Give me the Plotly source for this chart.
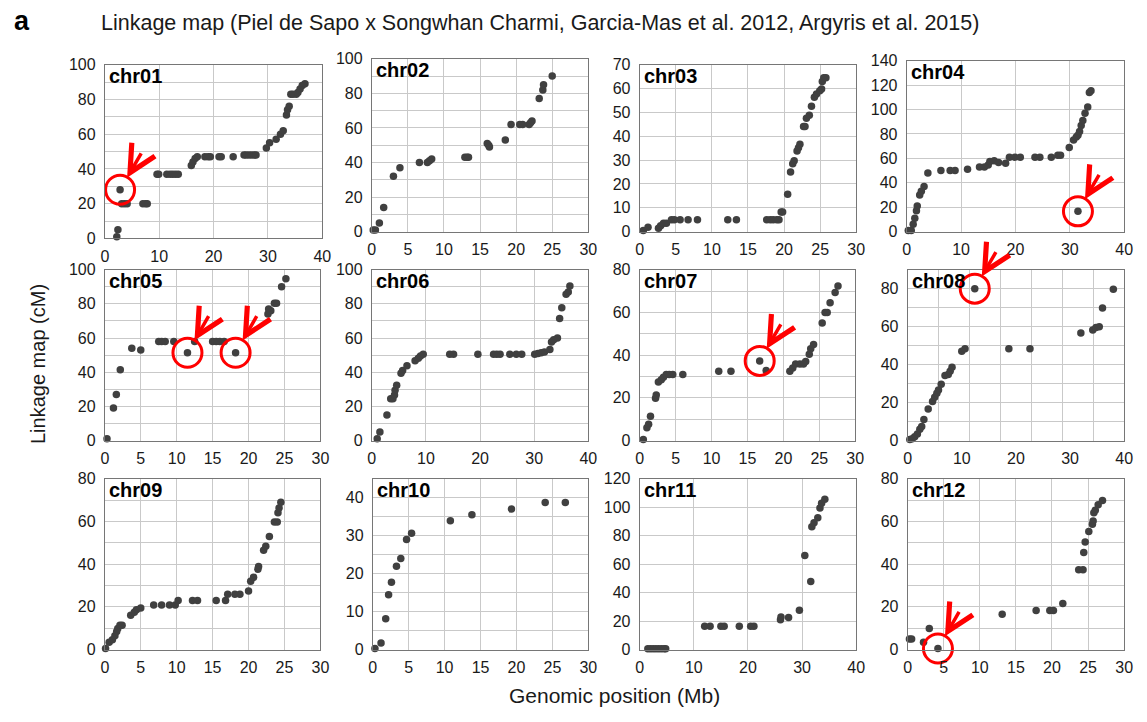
import plotly.graph_objects as go

W, H = 1147, 722

# ---------------- data (Mb, cM) ----------------
chr01_x = [2.2, 2.4, 2.8, 3.1, 3.6, 4.1, 7.0, 7.5, 7.8, 9.6, 9.9, 11.4, 12.0, 12.5, 13.0, 13.5, 15.9, 16.2, 16.6, 17.0,
           18.4, 19.0, 19.4, 21.0, 21.4, 23.6, 25.6, 26.0, 26.5, 27.0, 27.5, 27.8, 29.7, 30.3, 31.5, 32.3, 32.8, 33.4,
           33.6, 33.9, 34.2, 34.6, 35.2, 35.5, 35.9, 36.3, 36.8]
chr01_y = [1, 5, 28, 20, 20, 20, 20, 20, 20, 37, 37, 37, 37, 37, 37, 37, 42, 44, 46, 47,
           47, 47, 47, 47, 47, 47, 48, 48, 48, 48, 48, 48, 52, 55, 57, 60, 62, 71,
           74, 76, 83, 83, 83, 84, 86, 88, 89]

chr02_x = [0.2, 0.5, 1.05, 1.65, 3.0, 3.9, 6.6, 7.7, 8.0, 8.3, 12.9, 13.2, 13.4, 16.0, 16.2, 16.3, 18.5, 19.3, 20.5,
           20.9, 21.8, 22.0, 22.2, 23.2, 23.7, 23.8, 25.0]
chr02_y = [1, 1, 5, 14, 32, 37, 40, 40, 41, 42, 43, 43, 43, 51, 50, 49, 53, 62, 62,
           62, 62, 63, 64, 77, 82, 85, 90]

chr03_x = [0.5, 1.15, 2.6, 2.9, 3.3, 3.7, 4.4, 4.8, 5.6, 6.7, 8.0, 12.2, 13.4, 17.6, 18.1, 18.5, 19.0, 19.3, 19.6,
           19.8, 20.5, 20.9, 21.2, 21.4, 21.8, 22.0, 22.2, 22.7, 22.9, 23.1, 23.5, 23.8, 24.2, 24.5, 24.95, 25.2,
           25.3, 25.5, 25.8]
chr03_y = [0.5, 1.8, 1.4, 2.5, 3.5, 3.5, 5, 5, 5, 5, 5, 5, 5, 5, 5, 5, 5, 5, 8.2,
           8.2, 15.7, 25, 28.4, 29.7, 33.8, 35.2, 36.6, 44.1, 44.1, 47.5, 48.8, 52.5, 56.3, 57.7, 59, 59.8,
           62.9, 64.5, 64.5]

chr04_x = [0.3, 0.85, 1.2, 1.5, 1.8, 1.95, 2.4, 2.7, 3.2, 3.9, 6.3, 8.0, 8.9, 11.2, 13.4, 14.3, 15.0, 15.3, 16.1,
           16.9, 18.2, 18.9, 19.9, 20.9, 23.6, 24.5, 26.6, 27.8, 28.3, 29.9, 30.7, 31.2, 31.5, 31.8, 32.1, 32.4,
           32.8, 33.3, 33.6, 33.9, 31.5]
chr04_y = [1, 1, 6, 11, 17, 21, 30, 33, 37, 48, 50, 50, 50, 51, 53, 53, 54.5, 57.4, 58,
           56.6, 56, 61, 61, 61, 61, 61, 61, 62.5, 62.5, 69, 75, 77.5, 79, 82, 87, 91,
           97, 102, 114, 115.5, 16.6]

chr05_x = [0.3, 1.2, 1.6, 2.15, 3.75, 5.0, 7.5, 7.9, 8.4, 9.6, 11.5, 12.5, 15.0, 15.5, 16.0, 16.6, 18.2, 22.7,
           22.8, 23.1, 23.6, 23.9, 24.6, 25.2]
chr05_y = [1, 19, 27, 41.5, 54, 53, 58, 58, 58, 58, 51.4, 58, 58, 58, 58, 58, 51.4, 74,
           77, 76, 80.4, 80.4, 90, 94.7]

chr06_x = [1.0, 1.5, 2.8, 3.5, 3.9, 4.2, 4.3, 4.6, 5.4, 5.7, 6.5, 8.0, 8.6, 9.0, 9.5, 14.4, 15.1, 19.6, 22.5,
           23.1, 23.7, 25.5, 26.7, 27.7, 30.1, 30.7, 31.3, 31.9, 32.9, 33.2, 33.6, 34.3, 34.7, 35.1, 35.9, 36.3,
           36.6]
chr06_y = [1, 5, 15, 24.4, 24.4, 26.7, 29.5, 32.4, 39.4, 41, 43.8, 46.7, 48.2, 49.5, 50.5, 50.5, 50.5, 50.5, 50.5,
           50.5, 50.5, 50.5, 50.5, 50.5, 50.5, 51, 51.4, 51.8, 53.3, 57.7, 59, 60, 71.4, 77.7, 85.7, 87,
           90.5]

chr07_x = [0.5, 1.0, 1.24, 1.5, 2.2, 2.3, 2.6, 3.0, 3.3, 3.7, 4.1, 4.6, 6.0, 11.0, 12.7, 16.7, 17.6, 20.9, 21.3,
           21.7, 22.3, 22.8, 23.1, 23.6, 23.8, 24.2, 25.4, 25.8, 26.1, 26.5, 27.2, 27.6]
chr07_y = [0.5, 6, 7.6, 11.4, 19.8, 21.3, 27.4, 28.5, 29.7, 30.9, 30.9, 30.9, 30.9, 32.5, 32.5, 37.3, 32.8, 32.5, 34,
           35.8, 35.8, 35.8, 37, 40.4, 43, 45, 55, 60, 60, 64.5, 69.3, 72.4]

chr08_x = [0.4, 0.85, 1.3, 1.8, 2.25, 2.6, 3.0, 3.8, 4.6, 5.0, 5.4, 5.7, 6.2, 6.9, 7.5, 7.85, 8.2, 10.0, 10.6,
           12.4, 18.7, 22.6, 32.0, 34.2, 34.8, 35.4, 36.0, 38.0]
chr08_y = [0.5, 0.9, 2, 3.4, 6, 7.4, 11.1, 16.6, 20.6, 22.8, 24.9, 26.6, 29.7, 34.3, 34.8, 36.5, 38.6, 47.1, 48.3,
           80, 48.3, 48.3, 56.6, 58.3, 59.5, 60, 69.8, 79.7]

chr09_x = [0.1, 0.6, 1.05, 1.4, 1.65, 1.8, 2.1, 2.4, 3.6, 4.1, 4.4, 5.0, 6.8, 7.9, 9.0, 9.8, 10.2, 12.2, 12.9,
           15.5, 16.8, 17.1, 18.1, 18.8, 20.0, 20.3, 20.7, 21.3, 21.4, 22.1, 22.4, 22.9, 23.6, 24.0, 24.1, 24.25,
           24.5]
chr09_y = [0.5, 3.4, 4.6, 6.4, 8.4, 9.9, 11.4, 11.4, 16, 17.5, 18.6, 19.4, 20.9, 20.9, 20.9, 20.9, 22.9, 22.9, 22.9,
           22.9, 22.9, 25.9, 25.9, 25.9, 27.4, 32, 33.8, 37.6, 38.9, 46.5, 48.3, 52.9, 59.7, 59.7, 64, 66.3,
           68.9]

chr10_x = [0.3, 1.15, 1.8, 2.2, 2.6, 3.3, 3.9, 4.7, 5.4, 10.8, 13.8, 19.3, 24.0, 26.8]
chr10_y = [0.3, 1.7, 8.1, 14.4, 17.7, 21.9, 24.0, 29.0, 30.6, 33.9, 35.5, 37.0, 38.7, 38.7]

chr11_x = [1.5, 2.0, 2.5, 3.0, 3.5, 4.0, 4.5, 4.8, 12.0, 13.0, 15.0, 15.6, 18.4, 20.5, 21.1, 26.0, 26.1, 27.5,
           29.5, 30.5, 31.6, 31.8, 32.2, 32.9, 33.3, 33.6, 34.2]
chr11_y = [0.5, 0.5, 0.5, 0.5, 0.5, 0.5, 0.5, 0.5, 16.3, 16.3, 16.3, 16.3, 16.3, 16.3, 16.3, 20.9, 22.9, 22.5,
           27.5, 66, 47.7, 86.3, 89, 92.5, 99.4, 102.8, 105.6]

chr12_x = [0.25, 0.55, 2.2, 3.0, 4.2, 13.1, 17.8, 19.7, 20.2, 21.5, 23.7, 24.3, 24.4, 24.6, 25.1, 25.6, 25.7, 25.8,
           26.0, 26.4, 27.0]
chr12_y = [4.9, 4.9, 3.4, 9.9, 0.5, 16.5, 18.3, 18.3, 18.3, 21.6, 37.3, 37.3, 45.4, 50.3, 55.2, 58.7, 60.2, 64,
           65.2, 67.8, 69.8]

chrom_names = ["chr01", "chr02", "chr03", "chr04", "chr05", "chr06",
               "chr07", "chr08", "chr09", "chr10", "chr11", "chr12"]
xs = [chr01_x, chr02_x, chr03_x, chr04_x, chr05_x, chr06_x, chr07_x, chr08_x, chr09_x, chr10_x, chr11_x, chr12_x]
ys = [chr01_y, chr02_y, chr03_y, chr04_y, chr05_y, chr06_y, chr07_y, chr08_y, chr09_y, chr10_y, chr11_y, chr12_y]

# axis maxima and tick steps
x_max = [40, 30, 30, 40, 30, 40, 30, 40, 30, 30, 40, 30]
x_step = [10, 5, 5, 10, 5, 10, 5, 10, 5, 5, 10, 5]
y_max = [100, 100, 70, 140, 100, 100, 80, 90, 80, 45, 120, 80]
y_step = [20, 20, 10, 20, 20, 20, 20, 20, 20, 10, 20, 20]
y_grid = [10, 10, 10, 20, 10, 10, 10, 10, 10, 5, 20, 10]

# highlighted (misplaced) markers: index into each chromosome's arrays
highlight_idx = {"chr01": [2], "chr04": [40], "chr05": [10, 16], "chr07": [15], "chr08": [19], "chr12": [4]}

title_text = "Linkage map (Piel de Sapo x Songwhan Charmi, Garcia-Mas et al. 2012, Argyris et al. 2015)"
x_title = "Genomic position (Mb)"
y_title = "Linkage map (cM)"

# ---------------- layout (pixel boxes of each plot area) ----------------
boxes = [
    (102, 322, 58, 236), (372, 591, 52, 229), (643, 862, 58, 229), (913, 1133, 54, 229),
    (102, 320, 268, 443), (372, 591, 268, 443), (643, 861, 268, 443), (914, 1133, 268, 443),
    (102, 320, 482, 657), (373, 591, 482, 657), (643, 862, 482, 657), (914, 1133, 482, 657),
]

FONT = "Liberation Sans, Arial, sans-serif"
GRID = "#c9c9c9"
FRAME = "#767676"
DOT = "#404040"
RED = "#ff0000"

fig = go.Figure()
layout = dict(
    width=W, height=H, margin=dict(l=0, r=0, t=0, b=0),
    paper_bgcolor="white", plot_bgcolor="white",
    showlegend=False, font=dict(family=FONT, color="#1a1a1a", size=16),
)
annotations = []

for i, name in enumerate(chrom_names):
    n = i + 1
    xa = "xaxis" if n == 1 else f"xaxis{n}"
    ya = "yaxis" if n == 1 else f"yaxis{n}"
    xr = "x" if n == 1 else f"x{n}"
    yr = "y" if n == 1 else f"y{n}"
    x0, x1, y0, y1 = boxes[i]
    layout[xa] = dict(
        domain=[x0 / W, x1 / W], anchor=yr, range=[0, x_max[i]],
        tickmode="linear", tick0=0, dtick=x_step[i], ticks="", ticklabelstandoff=3,
        showline=True, mirror=True, linecolor=FRAME, linewidth=1,
        showgrid=True, gridcolor=GRID, gridwidth=1, zeroline=False,
        tickfont=dict(size=16, family=FONT, color="#1a1a1a"),
    )
    if name == "chr08":
        layout[xa]["showgrid"] = False
        layout[xa]["minor"] = dict(tick0=0, dtick=40 / 7, showgrid=True, gridcolor=GRID, ticks="")
    layout[ya] = dict(
        domain=[1 - y1 / H, 1 - y0 / H], anchor=xr, range=[0, y_max[i]],
        tickmode="linear", tick0=0, dtick=y_step[i], ticks="", ticklabelstandoff=5,
        showline=True, mirror=True, linecolor=FRAME, linewidth=1,
        showgrid=True, gridcolor=GRID, gridwidth=1, zeroline=False,
        tickfont=dict(size=16, family=FONT, color="#1a1a1a"),
        minor=dict(dtick=y_grid[i], tick0=0, showgrid=True, gridcolor=GRID, ticks=""),
    )
    fig.add_trace(go.Scatter(
        x=xs[i], y=ys[i], mode="markers", xaxis=xr, yaxis=yr,
        marker=dict(size=7.5, color=DOT), cliponaxis=False, hoverinfo="x+y",
    ))
    annotations.append(dict(
        text=f"<b>{name}</b>", xref="paper", yref="paper",
        x=(x0 + 2) / W, y=1 - (y0 - 2) / H, xanchor="left", yanchor="top",
        showarrow=False, font=dict(size=20, family=FONT, color="black"),
    ))
    hl = highlight_idx.get(name, [])
    if hl:
        hx = [xs[i][k] for k in hl]
        hy = [ys[i][k] for k in hl]
        fig.add_trace(go.Scatter(
            x=hx, y=hy, mode="markers", xaxis=xr, yaxis=yr, cliponaxis=False,
            marker=dict(symbol="circle-open", size=29, color=RED, line=dict(width=3, color=RED)),
            hoverinfo="skip",
        ))
        for px, py in zip(hx, hy):
            annotations.append(dict(
                x=px, y=py, xref=xr, yref=yr, text="", showarrow=True,
                ax=22, ay=-38, axref="pixel", ayref="pixel", standoff=14,
                arrowhead=5, arrowsize=1.5, arrowwidth=3.5, arrowcolor=RED,
            ))

annotations += [
    dict(text="<b>a</b>", xref="paper", yref="paper", x=8 / W, y=1 - 13 / H,
         xanchor="left", yanchor="middle", showarrow=False,
         font=dict(size=27, family=FONT, color="black")),
    dict(text=title_text, xref="paper", yref="paper", x=96 / W, y=1 - 15 / H,
         xanchor="left", yanchor="middle", showarrow=False,
         font=dict(size=21.5, family=FONT, color="#1a1a1a")),
    dict(text=x_title, xref="paper", yref="paper", x=617 / W, y=1 - 704 / H,
         xanchor="center", yanchor="middle", showarrow=False,
         font=dict(size=21, family=FONT, color="#1a1a1a")),
    dict(text=y_title, xref="paper", yref="paper", x=35 / W, y=1 - 365 / H,
         xanchor="center", yanchor="middle", showarrow=False, textangle=-90,
         font=dict(size=20, family=FONT, color="#1a1a1a")),
]
layout["annotations"] = annotations
fig.update_layout(**layout)
fig.write_html("out.html")
